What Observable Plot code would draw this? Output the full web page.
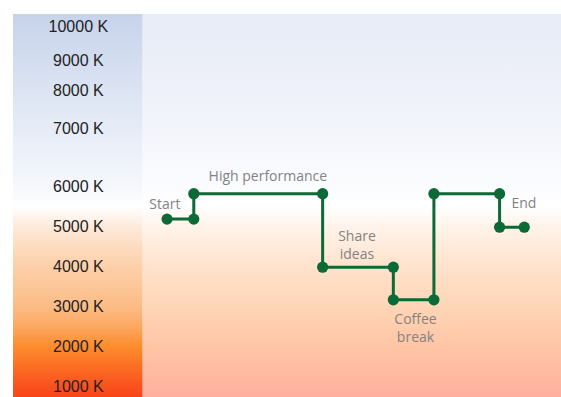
<!DOCTYPE html>
<html>
<head>
<meta charset="utf-8">
<script src="https://cdn.jsdelivr.net/npm/d3@7"></script>
<script src="https://cdn.jsdelivr.net/npm/@observablehq/plot@0.6"></script>
<style>
  body { margin: 0; background: #fff; }
  #chart svg { display: block; }
</style>
</head>
<body>
<div id="chart"></div>
<script>
// ---- data ----
const tickK = [1000, 2000, 3000, 4000, 5000, 6000, 7000, 8000, 9000, 10000];
const phaseStartX = [5.7, 12.1, 42.9, 59.8, 69.5, 85.2];
const phaseEndX   = [12.1, 42.9, 59.8, 69.5, 85.2, 91.1];
const phaseK      = [5200, 5830, 4000, 3185, 5830, 5000];
const labelText = ["Start", "High performance", "Share\nideas", "Coffee\nbreak", "End"];
const labelX    = [5.2, 29.8, 51.1, 65.1, 91.0];
const labelK    = [5590, 6200, 4580, 2490, 5610];

// ---- gradient styles (Kelvin -> colour) ----
const panelStopK = [740, 1000, 1500, 2000, 2500, 3000, 4000, 4500, 5000, 5500, 6000, 7000, 8000, 9000, 10000, 10350];
const panelStopC = ["#f8441a", "#fa501e", "#fc6e24", "#fd8c2d", "#fca860", "#fcbc86", "#fdd0a9", "#fddcc0", "#feeada", "#ffffff", "#f5f7fc", "#e6ecf7", "#dce4f3", "#d3ddf0", "#cad6ec", "#c6d3ea"];
const bgStopK = [740, 1000, 2000, 3000, 4000, 5000, 5500, 6000, 7000, 8000, 10350];
const bgStopC = ["#ffaea0", "#ffb4a0", "#ffc5a5", "#fed5b6", "#ffe2cc", "#fff3ea", "#ffffff", "#fbfcfe", "#f3f5fb", "#eef1f9", "#e8ecf7"];

const points = phaseK.flatMap((k, i) => [{x: phaseStartX[i], k}, {x: phaseEndX[i], k}]);
const labels = labelText.map((t, i) => ({t, x: labelX[i], k: labelK[i]}));

const yDomain = [740, ...tickK, 10350];
const xDomain = [-31, 100];
const green = "#0b6a35";

// the Kelvin axis is non-uniform: piecewise-linear mapping to a 0..383 height
const kToY = d3.scaleLinear()
  .domain(yDomain)
  .range([0, 10.3, 50.3, 90.3, 130.3, 170.3, 210.7, 268.7, 306.3, 337, 371, 383]);

function gradientDefs(index, scales) {
  const ns = "http://www.w3.org/2000/svg";
  const defs = document.createElementNS(ns, "defs");
  const y0 = scales.y(kToY(yDomain[0])), y1 = scales.y(kToY(yDomain[yDomain.length - 1]));
  for (const [id, ks, cs] of [["panelGrad", panelStopK, panelStopC], ["bgGrad", bgStopK, bgStopC]]) {
    const g = document.createElementNS(ns, "linearGradient");
    g.setAttribute("id", id);
    g.setAttribute("gradientUnits", "userSpaceOnUse");
    g.setAttribute("x1", 0); g.setAttribute("x2", 0);
    g.setAttribute("y1", y0); g.setAttribute("y2", y1);
    ks.forEach((k, i) => {
      const s = document.createElementNS(ns, "stop");
      s.setAttribute("offset", (scales.y(kToY(k)) - y0) / (y1 - y0));
      s.setAttribute("stop-color", cs[i]);
      g.appendChild(s);
    });
    defs.appendChild(g);
  }
  return defs;
}

const yLo = kToY(yDomain[0]), yHi = kToY(yDomain[yDomain.length - 1]);

const chart = Plot.plot({
  width: 561,
  height: 397,
  x: {domain: xDomain, range: [13, 561], axis: null},
  y: {domain: [yLo, yHi], range: [397, 14], axis: null},
  marks: [
    gradientDefs,
    Plot.rect([0], {x1: xDomain[0], x2: 0, y1: yLo, y2: yHi, fill: "url(#panelGrad)"}),
    Plot.rect([0], {x1: 0, x2: xDomain[1], y1: yLo, y2: yHi, fill: "url(#bgGrad)"}),
    Plot.text(tickK, {
      x: -15.5, y: d => kToY(d), text: d => `${d} K`,
      fontSize: 16, fontFamily: "Liberation Sans, Arial, sans-serif", fill: "#222"
    }),
    Plot.line(points, {x: "x", y: d => kToY(d.k), stroke: green, strokeWidth: 3}),
    Plot.dot(points, {x: "x", y: d => kToY(d.k), r: 5.6, fill: green, stroke: "none"}),
    Plot.text(labels, {
      x: "x", y: d => kToY(d.k), text: "t", lineAnchor: "middle", lineHeight: 1.27,
      fontSize: 14, fontFamily: "Open Sans, sans-serif", fill: "#838383"
    })
  ]
});
document.getElementById("chart").appendChild(chart);
</script>
</body>
</html>
